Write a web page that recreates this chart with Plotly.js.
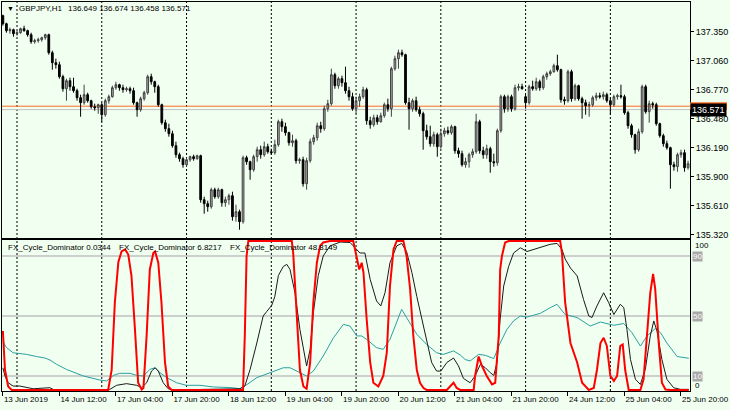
<!DOCTYPE html>
<html><head><meta charset="utf-8">
<script src="https://cdn.plot.ly/plotly-3.0.1.min.js"></script>
<style>html,body{margin:0;padding:0;background:#f0fff0;}#chart{width:730px;height:410px;}</style>
</head><body><div id="chart"></div>
<script>
const symbolText = "GBPJPY,H1";
const quoteText = "136.649 136.674 136.458 136.571";
const askPrice = 136.605;
const bidPrice = 136.571;

const barOpen = [137.51,137.43,137.36,137.37,137.33,137.34,137.38,137.36,137.32,137.25,137.26,137.27,137.29,137.32,137.14,137.04,137.02,136.90,136.78,136.86,136.80,136.76,136.69,136.64,136.72,136.66,136.60,136.59,136.62,136.52,136.66,136.70,136.79,136.82,136.79,136.77,136.78,136.76,136.64,136.57,136.68,136.74,136.90,136.85,136.80,136.62,136.44,136.38,136.33,136.21,136.12,136.08,136.02,136.07,136.10,136.08,136.11,135.67,135.63,135.60,135.77,135.70,135.77,135.64,135.67,135.71,135.50,135.55,135.45,136.09,136.05,135.97,136.10,136.17,136.12,136.20,136.15,136.14,136.22,136.45,136.40,136.34,136.24,136.26,136.06,136.07,135.83,136.06,136.25,136.29,136.41,136.38,136.58,136.63,136.92,136.81,136.88,136.84,136.76,136.70,136.58,136.66,136.70,136.77,136.46,136.42,136.49,136.45,136.51,136.62,136.58,136.98,137.08,137.14,137.12,136.64,136.58,136.66,136.57,136.53,136.36,136.30,136.23,136.32,136.20,136.33,136.36,136.34,136.40,136.16,136.13,136.02,136.05,136.12,136.15,136.45,136.16,136.12,136.18,136.05,136.04,136.36,136.70,136.58,136.70,136.58,136.79,136.80,136.70,136.64,136.80,136.78,136.85,136.79,136.90,136.93,136.95,137.01,136.97,136.67,136.66,136.95,136.68,136.81,136.68,136.64,136.61,136.62,136.69,136.71,136.70,136.72,136.66,136.62,136.70,136.71,136.70,136.54,136.41,136.32,136.17,136.35,136.80,136.55,136.63,136.62,136.43,136.31,136.23,136.19,136.02,136.00,136.12,136.14,135.99];
const barHigh = [137.52,137.44,137.39,137.38,137.36,137.39,137.41,137.37,137.34,137.28,137.29,137.30,137.33,137.33,137.16,137.08,137.05,136.92,136.88,136.89,136.89,136.78,136.72,136.82,136.74,136.67,136.63,136.63,136.64,136.68,136.72,136.81,136.85,136.83,136.82,136.80,136.80,136.79,136.65,136.70,136.76,136.92,136.93,136.86,136.82,136.63,136.47,136.43,136.36,136.25,136.14,136.10,136.09,136.11,136.12,136.12,136.12,135.70,135.66,135.79,135.79,135.79,135.78,135.70,135.73,135.75,135.62,135.57,136.11,136.11,136.06,136.12,136.20,136.21,136.25,136.23,136.18,136.27,136.47,136.48,136.44,136.35,136.32,136.28,136.09,136.10,136.09,136.28,136.32,136.44,136.45,136.61,136.67,136.98,136.94,136.90,136.91,137.00,136.80,136.74,136.70,136.73,136.80,136.79,136.50,136.52,136.52,136.54,136.64,136.68,137.00,137.11,137.17,137.17,137.13,136.69,136.68,136.70,136.60,136.55,136.42,136.41,136.35,136.34,136.38,136.39,136.40,136.42,136.41,136.19,136.16,136.09,136.14,136.18,136.53,136.47,136.20,136.22,136.20,136.13,136.38,136.72,136.72,136.72,136.72,136.82,136.83,136.83,136.72,136.82,136.86,136.89,136.87,136.92,136.95,136.97,137.03,137.12,136.98,136.70,136.97,136.97,136.83,136.82,136.70,136.67,136.65,136.71,136.74,136.74,136.75,136.74,136.69,136.72,136.73,136.82,136.72,136.56,136.43,136.33,136.38,136.82,136.82,136.66,136.65,136.64,136.44,136.33,136.26,136.20,136.05,136.14,136.17,136.17,136.06];
const barLow = [137.41,137.34,137.33,137.30,137.31,137.33,137.35,137.30,137.23,137.23,137.24,137.25,137.27,137.12,136.97,136.98,136.88,136.75,136.66,136.76,136.74,136.66,136.50,136.62,136.64,136.58,136.56,136.53,136.45,136.50,136.63,136.69,136.77,136.76,136.74,136.75,136.73,136.62,136.50,136.55,136.66,136.72,136.82,136.74,136.60,136.42,136.35,136.30,136.19,136.09,136.05,135.99,136.00,136.05,136.06,136.07,135.64,135.53,135.55,135.58,135.68,135.68,135.60,135.60,135.62,135.46,135.45,135.37,135.43,136.02,135.87,135.95,136.05,136.08,136.10,136.13,136.12,136.12,136.20,136.35,136.31,136.21,136.20,136.03,136.03,135.80,135.77,136.04,136.22,136.26,136.34,136.36,136.55,136.61,136.78,136.78,136.80,136.73,136.66,136.56,136.53,136.60,136.68,136.42,136.38,136.40,136.42,136.44,136.49,136.55,136.50,136.96,136.98,137.10,136.62,136.37,136.55,136.55,136.50,136.17,136.27,136.20,136.20,136.10,136.18,136.30,136.32,136.32,136.13,136.09,136.00,135.99,135.99,136.09,136.13,136.13,136.08,136.08,135.94,136.00,136.01,136.34,136.54,136.55,136.55,136.56,136.76,136.77,136.58,136.62,136.76,136.76,136.76,136.77,136.87,136.91,136.94,136.95,136.64,136.62,136.64,136.65,136.66,136.66,136.48,136.52,136.50,136.60,136.66,136.68,136.67,136.64,136.52,136.60,136.67,136.68,136.52,136.38,136.29,136.13,136.15,136.33,136.53,136.44,136.58,136.41,136.29,136.20,136.17,135.78,135.96,135.95,136.09,135.95,135.97];
const barClose = [137.43,137.36,137.37,137.33,137.34,137.38,137.36,137.32,137.25,137.26,137.27,137.29,137.32,137.14,137.04,137.02,136.90,136.78,136.86,136.80,136.76,136.69,136.64,136.72,136.66,136.60,136.59,136.62,136.52,136.66,136.70,136.79,136.82,136.79,136.77,136.78,136.76,136.64,136.57,136.68,136.74,136.90,136.85,136.80,136.62,136.44,136.38,136.33,136.21,136.12,136.08,136.02,136.07,136.10,136.08,136.11,135.67,135.63,135.60,135.77,135.70,135.77,135.64,135.67,135.71,135.50,135.55,135.45,136.09,136.05,135.97,136.10,136.17,136.12,136.20,136.15,136.14,136.22,136.45,136.40,136.34,136.24,136.26,136.06,136.07,135.83,136.06,136.25,136.29,136.41,136.38,136.58,136.63,136.92,136.81,136.88,136.84,136.76,136.70,136.58,136.66,136.70,136.77,136.46,136.42,136.49,136.45,136.51,136.62,136.58,136.98,137.08,137.14,137.12,136.64,136.58,136.66,136.57,136.53,136.36,136.30,136.23,136.32,136.20,136.33,136.36,136.34,136.40,136.16,136.13,136.02,136.05,136.12,136.15,136.45,136.16,136.12,136.18,136.05,136.04,136.36,136.70,136.58,136.70,136.58,136.79,136.80,136.78,136.64,136.80,136.78,136.85,136.79,136.90,136.93,136.95,137.01,136.97,136.67,136.66,136.95,136.68,136.81,136.68,136.64,136.61,136.62,136.69,136.71,136.70,136.72,136.66,136.62,136.70,136.71,136.70,136.54,136.41,136.32,136.17,136.35,136.80,136.55,136.63,136.62,136.43,136.31,136.23,136.19,136.02,136.00,136.12,136.14,135.99,136.03];
const barIndex = barClose.map((_, i) => i);

const dayStartIdx = [4, 28, 52, 76, 100, 124, 148, 172];
const timeTickIdx = [0, 16, 32, 48, 64, 80, 96, 112, 128, 144, 160, 176, 192];
const timeTickText = ["13 Jun 2019","14 Jun 12:00","17 Jun 04:00","17 Jun 20:00","18 Jun 12:00","19 Jun 04:00","19 Jun 20:00","20 Jun 12:00","21 Jun 04:00","21 Jun 20:00","24 Jun 12:00","25 Jun 04:00","25 Jun 20:00"];
const priceTicks = [135.32, 135.61, 135.90, 136.19, 136.48, 136.77, 137.06, 137.35];

const indicatorNames = ["FX_Cycle_Dominator 0.0344", "FX_Cycle_Dominator 6.8217", "FX_Cycle_Dominator 48.8149"];
const levelValues = [90, 50, 10];

const redIdx = [0,0.6,1.5,2.5,29.8,30.8,31.7,32.7,33.6,34.6,35.5,36.4,37.4,38.3,39.3,39.8,40.7,41.6,42.6,43.1,44,44.9,45.9,46.8,47.8,68,68.5,69,69.5,81.8,82.2,83.2,84.1,85.1,86,87,87.9,88.9,89.8,90.7,92.6,99.2,100.2,100.9,101.6,102.1,103,104,104.9,106.3,107.7,108.7,109.6,110.6,111.5,113.4,114.3,115.3,116.2,117.2,118.1,119.1,120,125.7,126.6,127.6,128.5,129.5,133.3,133.7,134.7,135.6,137,138.5,139.4,140.4,140.8,141.3,142.2,143.2,157.8,158.3,159.2,160.7,162.6,164,165.9,167.3,168.2,169.2,170.1,171,172,173,173.9,174.8,175.5,176.2,177.2,180.5,181.4,182.4,183.3,184.1,184.7,185.7,186.6,187.6,189,194.2];
const redVal = [40,14,3,0.7,0.7,14,59,86,93,94.4,91,77,41,5.5,1,2,37,81,92,93,85.5,59,19,3,0.7,0.7,37,90,100,100,92,48,14,3,1.5,19,59,85.5,96.7,99,100,100,90,81,85.5,79,48,19,5.5,3,10,25.5,70,94.4,100,100,90,68,37,14,5.5,2,0.7,0.7,3,5.5,2,0.7,0.7,10,23,17,10,4.4,5.5,37,81,90,99,100,100,92,59,32,19,5.5,0.7,2,14,32,35.5,30,10,6.7,10,30,31,14,0.7,0.7,7.8,37,65.5,78,68,32,5.5,1,0.7,0.7];

const blackIdx = [0,0.6,1.5,2.9,4.8,6.7,8.6,13.3,14.3,27.5,30.3,32.2,35,37.9,39.3,40.7,42.1,43.1,44,45.4,46.8,48.3,64.3,67.1,68.5,70,71.9,73.7,74.7,76.1,77,78,79.4,80.4,81.3,82.7,84.1,85.5,86,87,87.9,89.3,90.7,92.6,95.5,98.3,99.7,101.1,102.5,104,105.8,107,108.2,109.6,111.5,112.9,114.3,115.8,117.2,118.6,120,121.4,122.8,124,125.7,127.6,129,130.4,132.3,133.7,135.2,136.6,138,139,139.9,140.8,141.8,143.2,144.6,146.5,148.4,150.3,153.1,155,156.9,158.3,159.2,160.7,162.6,164.4,165.9,166.8,168.2,170.1,171.5,173,174.8,175.8,176.7,177.7,179.1,180.5,181.9,183.3,184.3,185.2,186.6,188,189.9,191.8,194.2];
const blackVal = [15.5,10,5.5,3.3,3.3,2.2,1.5,2.2,1,0.4,1.1,3.8,4.9,3.8,2.2,5.5,13.3,15.5,13.3,5.5,1.5,0.7,1.5,1.5,3.3,14.4,32,50,53,57,63,77,83,84.4,81,65.5,41,21,16.7,27.8,52,77,90,96.7,99.3,99,95.5,92,92,74.4,60,56.7,65.5,85.5,96.7,98.4,93,79,63,48,32,19,13.3,13.3,19,22,16.7,8.4,5.5,10,17.8,15.5,12.2,10.4,19,48,70,83,92,95.5,93,94.4,96,97.8,98.4,94.4,88,82,76.7,61,50,49,56.7,65.5,59,51,57.8,55.6,41,21,7.8,4.4,14.4,36.7,46.7,40,21,7.8,2.2,1.1,1.1];

const tealIdx = [0,1,2.9,6.7,9.5,11.9,13.3,15.2,18,22.8,27.5,29.4,31.3,33.1,36,37.9,39.8,41.6,43.1,44.5,46.4,49.2,52,55.8,59.6,65,67.1,68.5,71.9,75.6,79.4,81.3,83.7,86,87.9,90.7,93.6,96.4,98.3,100.2,101.6,103,105.8,107.7,109.6,111.5,112.9,114.3,117.2,120,122.8,124.7,127.6,129.5,130.9,132.3,134.7,136.6,139,140.8,142.7,144.6,146.5,148.4,150.3,152.2,155,156.9,159.2,162.6,166.3,169.2,173,175.8,178.1,180.5,182.4,184.7,186.2,188,190.9,194.2];
const tealVal = [33,29,25.5,24.4,23,22,20.7,17.8,14.4,10,7.3,6.7,10.4,11.8,11.8,10.4,10,14.4,15.5,12.2,8.9,5.5,3.8,3.8,2.7,2.2,1.5,3.3,8.9,12.2,15.5,15.5,12.7,10,13.3,23.3,35.5,44.4,43.3,36.7,36.7,34.4,28.9,27.8,34.4,46.7,54.4,49,37.8,31,25.5,24.4,26.7,24,21,20,24.4,23.8,21.6,32,41,46.7,50,49.3,50.7,51.8,55.6,57.8,51,49,43.3,46,43.8,45,38.9,30,36.7,41.6,38.9,32,23,21.8];

// ---- layout geometry (pixels of the 730x410 page) ----
const ML = 2, MR = 40, MT = 2, MB = 19, W = 730, H = 410;
const plotW = W - ML - MR, plotH = H - MT - MB;
const PX = p => (p - ML) / plotW;
const PY = p => (H - MB - p) / plotH;
const xRange = [-0.25, 194.55];
const FONT = "Liberation Sans, Arial, sans-serif";

const traces = [
  {type: 'candlestick', x: barIndex, open: barOpen, high: barHigh, low: barLow, close: barClose,
   xaxis: 'x', yaxis: 'y', hoverinfo: 'skip', whiskerwidth: 0,
   increasing: {line: {color: '#404040', width: 1}, fillcolor: '#a8a8a8'},
   decreasing: {line: {color: '#000000', width: 1}, fillcolor: '#000000'}},
  {type: 'scatter', mode: 'lines', x: tealIdx, y: tealVal, xaxis: 'x2', yaxis: 'y2',
   line: {color: '#2aa0a0', width: 1}, hoverinfo: 'skip'},
  {type: 'scatter', mode: 'lines', x: blackIdx, y: blackVal, xaxis: 'x2', yaxis: 'y2',
   line: {color: '#1a1a1a', width: 1}, hoverinfo: 'skip'},
  {type: 'scatter', mode: 'lines', x: redIdx, y: redVal, xaxis: 'x2', yaxis: 'y2',
   line: {color: '#ff0000', width: 2}, hoverinfo: 'skip'}
];

const shapes = [];
dayStartIdx.forEach(d => shapes.push({type: 'line', xref: 'x', yref: 'paper', x0: d, x1: d, y0: 0, y1: 1,
  line: {color: '#000', width: 1, dash: '2px,2px'}, layer: 'below'}));
levelValues.forEach(v => shapes.push({type: 'line', xref: 'paper', yref: 'y2', x0: 0, x1: 1, y0: v, y1: v,
  line: {color: '#c0c0c0', width: 1.5}, layer: 'below'}));
shapes.push({type: 'line', xref: 'paper', yref: 'y', x0: 0, x1: 1, y0: bidPrice, y1: bidPrice,
  line: {color: '#c0c0c0', width: 1}, layer: 'below'});
shapes.push({type: 'line', xref: 'paper', yref: 'y', x0: 0, x1: 1, y0: askPrice, y1: askPrice,
  line: {color: '#ff6a20', width: 1}, layer: 'below'});
// ask price marker box (mostly hidden behind the bid label in the original)
shapes.push({type: 'rect', xref: 'paper', yref: 'y', x0: PX(690), x1: PX(727), y0: askPrice - 0.035, y1: askPrice + 0.04,
  fillcolor: '#ff6a20', line: {width: 0}, layer: 'above'});

const ann = [];
const txt = (text, px, py, size, extra) => Object.assign({text: text, xref: 'paper', yref: 'paper',
  x: PX(px), y: PY(py), xanchor: 'left', yanchor: 'middle', showarrow: false,
  font: {family: FONT, size: size, color: '#000'}}, extra || {});
ann.push(txt('▼', 5, 9, 7));
ann.push(txt(symbolText, 17, 9, 8));
ann.push(txt(quoteText, 66, 9, 8));
const nameX = [6, 117, 228];
indicatorNames.forEach((n, k) => ann.push(txt(n, nameX[k], 247, 8)));
ann.push(txt('100', 693, 245, 8));
ann.push(txt('0', 693, 385, 8));
levelValues.forEach(v => ann.push({text: String(v), xref: 'paper', yref: 'y2', x: PX(692), y: v,
  xanchor: 'left', yanchor: 'middle', showarrow: false, bgcolor: '#a8a8a8', borderpad: 0,
  font: {family: FONT, size: 8, color: '#ffffff'}}));
ann.push({text: bidPrice.toFixed(3), xref: 'paper', yref: 'y', x: PX(690), y: bidPrice, xanchor: 'left', yanchor: 'middle',
  showarrow: false, bgcolor: '#000000', borderpad: 1, font: {family: FONT, size: 9, color: '#ffffff'}});

const layout = {
  width: W, height: H, margin: {l: ML, r: MR, t: MT, b: MB},
  paper_bgcolor: '#f0fff0', plot_bgcolor: '#f0fff0', showlegend: false,
  font: {family: FONT, size: 8, color: '#000'},
  xaxis: {domain: [0, 1], range: xRange, anchor: 'y', showticklabels: false, ticks: '', showgrid: false,
    zeroline: false, showline: true, linecolor: '#000', linewidth: 1, mirror: true,
    rangeslider: {visible: false}, fixedrange: true},
  yaxis: {domain: [PY(237.5), 1], range: [135.292, 137.647], anchor: 'x', side: 'right',
    tickmode: 'array', tickvals: priceTicks, tickformat: '.3f', ticks: 'outside', ticklen: 3, tickcolor: '#000',
    tickfont: {family: FONT, size: 9, color: '#000'}, showgrid: false, zeroline: false,
    showline: true, linecolor: '#000', linewidth: 1, mirror: true, fixedrange: true},
  xaxis2: {domain: [0, 1], range: xRange, anchor: 'y2', tickmode: 'array', tickvals: timeTickIdx, ticktext: timeTickText,
    ticks: 'outside', ticklen: 4, tickcolor: '#000', ticklabelposition: 'outside right', tickangle: 0,
    ticklabeloverflow: 'allow',
    tickfont: {family: FONT, size: 8, color: '#000'}, showgrid: false, zeroline: false,
    showline: true, linecolor: '#000', linewidth: 1, mirror: true, fixedrange: true},
  yaxis2: {domain: [0, PY(239.5)], range: [0, 101], anchor: 'x2', side: 'right', showticklabels: false, ticks: '',
    showgrid: false, zeroline: false, showline: true, linecolor: '#000', linewidth: 1, mirror: true, fixedrange: true},
  shapes: shapes, annotations: ann
};

Plotly.newPlot('chart', traces, layout, {staticPlot: true, displayModeBar: false});
</script></body></html>
